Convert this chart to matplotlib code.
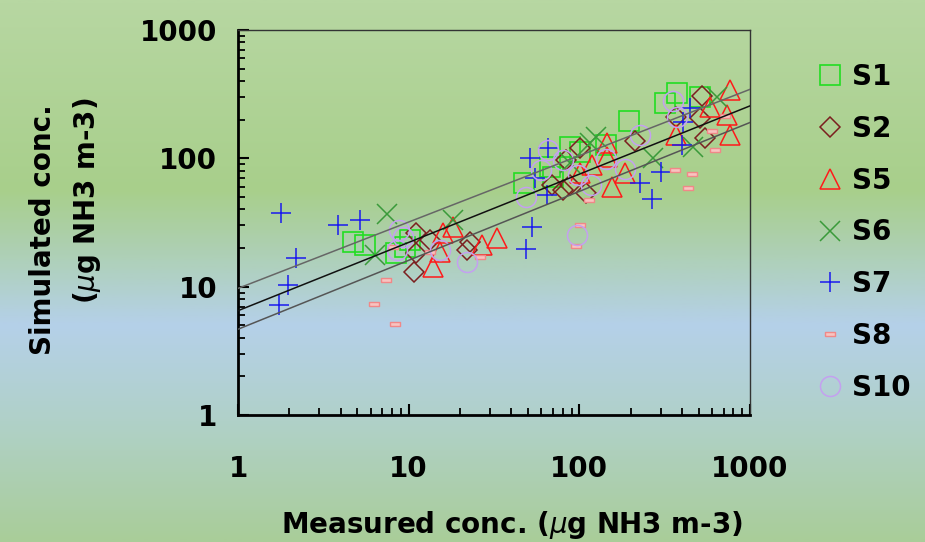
import numpy as np
import matplotlib
matplotlib.use('Agg')
from matplotlib import pyplot as plt
from matplotlib.colors import LinearSegmentedColormap

# measured (x) vs simulated (y) concentrations, ug NH3 m-3
s1_x = [4.7, 5.55, 8.4, 9.5, 10.2, 47.5, 70, 67, 88, 101, 143, 196, 318, 375, 509]
s1_y = [22.3, 21.0, 18.2, 20.5, 23.1, 64, 72, 86, 123, 113, 127, 196, 269, 325, 303]

s2_x = [10.8, 11.1, 11.0, 13.3, 21.9, 22.9, 68.8, 84, 101, 80, 110, 88, 212, 371, 520, 509, 545]
s2_y = [12.9, 18.2, 26.1, 23.1, 19.3, 22.4, 62, 97, 120, 57, 53.5, 62, 137, 211, 306, 205, 143]

s5_x = [13.9, 15.9, 18.2, 15.3, 26.8, 32.8, 144.5, 144.5, 118, 155, 185, 101, 371, 582, 762, 729, 762]
s5_y = [14.3, 26.2, 29.4, 18.7, 21.1, 23.8, 131, 103, 89, 60, 76.5, 77, 152, 253, 341, 218, 152]

s6_x = [7.5, 6.35, 18.2, 126, 115, 88, 271, 465, 637]
s6_y = [36.9, 17.7, 33.1, 148, 132, 92, 100, 123, 303]

s7_x = [1.78, 3.85, 5.16, 2.2, 1.96, 1.73, 51.4, 55, 65.8, 64.3, 52.6, 49, 226, 303, 265, 397, 406, 445]
s7_y = [37.3, 30.3, 33.1, 16.6, 10.3, 7.2, 100, 70, 120, 51.8, 29, 19.6, 64, 78.7, 48, 127, 193, 246]

s8_x = [7.33, 6.24, 8.28, 8.1, 13.3, 26.2, 101, 95.5, 114, 363, 455, 435, 623, 713, 596]
s8_y = [11.3, 7.3, 5.15, 20.5, 18.7, 17.1, 30.3, 20.8, 47.4, 81.6, 75, 58.5, 116, 214, 164]

s10_x = [8.81, 9.3, 8.5, 15.3, 21.9, 65.5, 59.6, 48.7, 80.5, 98, 117, 143, 186, 226, 97, 352, 375]
s10_y = [27.7, 24.5, 19.3, 19.3, 15.7, 116, 80.5, 49.6, 97, 74, 62, 99, 83, 152, 25.3, 282, 211]

# fitted line and its bounds: value at x=1 and slope in log-log space
fit_x = [1, 1000]
fit_mid = (6.5, 0.532)
fit_up = (9.7, 0.517)
fit_low = (4.66, 0.537)

tick_vals = [1, 10, 100, 1000]
tick_labels = ['1', '10', '100', '1000']

FS = 20

fig = plt.figure(figsize=(9.25, 5.42), dpi=100)

# background gradient
bg = fig.add_axes([0, 0, 1, 1], zorder=-10)
bg.axis('off')
cmap = LinearSegmentedColormap.from_list('bg', [
    (0.0, '#b7d7a2'), (0.35, '#a8cf8b'), (0.47, '#aed0b6'),
    (0.60, '#b5d0e9'), (0.78, '#b0d1c8'), (1.0, '#a9cd99')])
grad = np.linspace(0, 1, 300).reshape(-1, 1)
bg.imshow(grad, aspect='auto', cmap=cmap, extent=[0, 1, 0, 1])

ax = fig.add_axes([0.2573, 0.2343, 0.5535, 0.7103])
ax.patch.set_alpha(0)
ax.set_xscale('log')
ax.set_yscale('log')
ax.set_xlim(1, 1000)
ax.set_ylim(1, 1000)

rect = [(-1, -0.3), (1, -0.3), (1, 0.3), (-1, 0.3), (-1, -0.3)]
series = [
    ('S1', s1_x, s1_y, 's', 13.7, '#22dd22', 'none', 1.2),
    ('S2', s2_x, s2_y, 'D', 9.7, '#7b1f1f', 'none', 1.1),
    ('S5', s5_x, s5_y, '^', 14.4, '#ff1a1a', 'none', 1.1),
    ('S6', s6_x, s6_y, 'x', 14.4, '#3a9a3a', 'none', 1.1),
    ('S7', s7_x, s7_y, '+', 14.4, '#1a1aee', 'none', 1.1),
    ('S8', s8_x, s8_y, rect, 7.5, '#f08888', '#f8c4c0', 1.0),
    ('S10', s10_x, s10_y, 'o', 14.4, '#c4a0f0', 'none', 1.1),
]
for name, xs, ys, mk, ms, col, fc, lw in series:
    ax.plot(xs, ys, linestyle='none', marker=mk, markersize=ms,
            markeredgecolor=col, markerfacecolor=fc, markeredgewidth=lw,
            label=name)

fx = np.array(fit_x, dtype=float)
for (a, b), c in [(fit_up, '#666666'), (fit_mid, '#111111'), (fit_low, '#555555')]:
    ax.plot(fx, a * fx ** b, color=c, lw=1.1, zorder=3)

ax.set_xticks(tick_vals)
ax.set_xticklabels(tick_labels)
ax.set_yticks(tick_vals)
ax.set_yticklabels(tick_labels)
ax.tick_params(which='major', direction='in', length=8, width=1.5,
               labelsize=FS, pad=15)
ax.tick_params(axis='x', which='major', pad=29)
ax.tick_params(which='minor', direction='in', length=5, width=1.3)
for lab in ax.get_xticklabels() + ax.get_yticklabels():
    lab.set_fontweight('bold')
for s in ['left', 'bottom']:
    ax.spines[s].set_linewidth(2)
for s in ['top', 'right']:
    ax.spines[s].set_linewidth(1)
    ax.spines[s].set_color('#333333')

fig.text(0.553, 0.031, r'Measured conc. ($\mu$g NH3 m-3)', ha='center',
         va='center', fontsize=FS, fontweight='bold')
fig.text(0.046, 0.576, 'Simulated conc.', rotation=90, ha='center',
         va='center', fontsize=FS, fontweight='bold')
fig.text(0.094, 0.629, r'($\mu$g NH3 m-3)', rotation=90, ha='center',
         va='center', fontsize=FS, fontweight='bold')

leg = fig.legend(loc='upper left', bbox_to_anchor=(0.870, 0.904),
                 frameon=False, prop={'size': FS, 'weight': 'bold'},
                 handlelength=1.0, handletextpad=0.3, labelspacing=0.855,
                 borderaxespad=0)

fig.savefig('out.png', dpi=100)
